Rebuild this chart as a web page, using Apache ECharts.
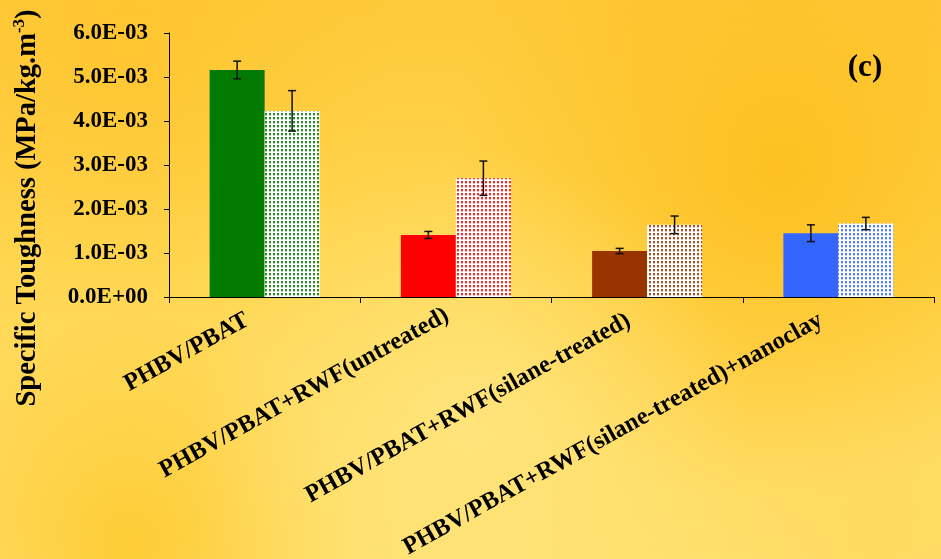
<!DOCTYPE html>
<html>
<head>
<meta charset="utf-8">
<script src="https://cdn.jsdelivr.net/npm/echarts@6/dist/echarts.min.js"></script>
<style>
  html, body { margin: 0; padding: 0; background: #FFDA5A; }
  #chart { width: 941px; height: 559px; }
</style>
</head>
<body>
<div id="chart"></div>
<script>
// Sample groups on the category axis
const categories = [
  'PHBV/PBAT',
  'PHBV/PBAT+RWF(untreated)',
  'PHBV/PBAT+RWF(silane-treated)',
  'PHBV/PBAT+RWF(silane-treated)+nanoclay'
];

// Specific toughness (MPa/kg.m^-3): solid bars and dotted bars
const solidValues  = [5.16e-3, 1.41e-3, 1.045e-3, 1.45e-3];
const solidErrors  = [0.20e-3, 0.08e-3, 0.06e-3, 0.19e-3];
const dottedValues = [4.23e-3, 2.70e-3, 1.64e-3, 1.67e-3];
const dottedErrors = [0.46e-3, 0.39e-3, 0.20e-3, 0.14e-3];

// Fill colour per group
const groupColors = ['#007A00', '#FF0000', '#993300', '#3366FF'];

// Y axis tick values
const yTicks = { min: 0, max: 0.006, interval: 0.001 };

const SERIF = '"Liberation Serif", "Times New Roman", serif';
const BAR_FRACTION = 0.2875; // bar width as share of category band

// Per-label nudges for the slanted category labels [top, right, bottom, left]
const labelPadding = [
  [10, 20, 0, 0],
  [0, 10, 12, 0],
  [0, 21, 12, 0],
  [0, 20, 26, 0]
];

// Small dotted tile: white ground with coloured dots in columns
function dotPattern(color) {
  const c = document.createElement('canvas');
  c.width = 4; c.height = 4;
  const ctx = c.getContext('2d');
  ctx.fillStyle = '#FFFFFF';
  ctx.fillRect(0, 0, 4, 4);
  ctx.fillStyle = color;
  ctx.globalAlpha = 0.85;
  ctx.fillRect(1, 1, 2, 2);
  ctx.globalAlpha = 0.3;
  ctx.fillRect(1, 3, 2, 1);
  return { image: c, repeat: 'repeat' };
}

function sciLabel(v) {
  if (Math.abs(v) < 1e-12) return '0.0E+00';
  const e = Math.floor(Math.log10(v) + 1e-9);
  const m = v / Math.pow(10, e);
  return m.toFixed(1) + 'E' + (e < 0 ? '-' : '+') + String(Math.abs(e)).padStart(2, '0');
}

function errorSeries(values, errors, side) {
  return {
    type: 'custom',
    z: 5,
    silent: true,
    data: values.map((v, i) => [i, v, errors[i]]),
    renderItem: function (params, api) {
      const band = api.size([1, 0])[0];
      const off = side * band * BAR_FRACTION / 2;
      const c = api.coord([api.value(0), api.value(1)]);
      const x = c[0] + off;
      const top = api.coord([api.value(0), api.value(1) + api.value(2)])[1];
      const bot = api.coord([api.value(0), api.value(1) - api.value(2)])[1];
      const cap = 4;
      const st = { stroke: '#111', lineWidth: 1.5 };
      return {
        type: 'group',
        children: [
          { type: 'line', shape: { x1: x, y1: top, x2: x, y2: bot }, style: st },
          { type: 'line', shape: { x1: x - cap, y1: top, x2: x + cap, y2: top }, style: st },
          { type: 'line', shape: { x1: x - cap, y1: bot, x2: x + cap, y2: bot }, style: st }
        ]
      };
    }
  };
}

function radial(cx, cy, r, color) {
  return {
    type: 'circle',
    z: -10,
    silent: true,
    shape: { cx: cx, cy: cy, r: r },
    style: {
      fill: new echarts.graphic.RadialGradient(0.5, 0.5, 0.5, [
        { offset: 0, color: color },
        { offset: 1, color: color.replace(/[\d.]+\)$/, '0)') }
      ])
    }
  };
}

const chart = echarts.init(document.getElementById('chart'));

chart.setOption({
  animation: false,
  backgroundColor: new echarts.graphic.LinearGradient(0, 0, 0, 1, [
    { offset: 0, color: '#FEC93A' },
    { offset: 0.45, color: '#FFD650' },
    { offset: 1, color: '#FFDF6C' }
  ]),
  graphic: [
    radial(780, 170, 330, 'rgba(253,190,28,0.9)'),
    radial(130, 40, 260, 'rgba(254,196,44,0.75)'),
    radial(130, 545, 230, 'rgba(253,198,36,0.75)'),
    radial(470, 430, 280, 'rgba(255,230,130,0.8)'),
    radial(880, 545, 160, 'rgba(255,215,90,0.6)'),
    {
      type: 'text',
      z: 10,
      x: 28,
      y: 208,
      rotation: Math.PI / 2,
      style: {
        text: '{a|Specific Toughness (MPa/kg.m}{s|-3}{a|)}',
        textAlign: 'center',
        textVerticalAlign: 'middle',
        rich: {
          a: { fontFamily: SERIF, fontWeight: 'bold', fontSize: 28.5, fill: '#000' },
          s: { fontFamily: SERIF, fontWeight: 'bold', fontSize: 17, fill: '#000', padding: [0, 0, 17, 0] }
        }
      }
    },
    {
      type: 'text',
      z: 10,
      x: 865,
      y: 68,
      style: {
        text: '(c)',
        fontFamily: SERIF,
        fontWeight: 'bold',
        fontSize: 31,
        fill: '#000',
        textAlign: 'center',
        textVerticalAlign: 'middle'
      }
    }
  ],
  grid: { left: 169, right: 7, top: 33, bottom: 262, outerBoundsMode: 'none', containLabel: false },
  xAxis: {
    type: 'category',
    data: categories.map((name, i) => ({
      value: name,
      textStyle: { padding: labelPadding[i] }
    })),
    axisLine: { lineStyle: { color: '#000', width: 1 } },
    axisTick: { show: true, length: 6, lineStyle: { color: '#000' } },
    axisLabel: {
      interval: 0,
      rotate: 29,
      margin: 12,
      color: '#000',
      fontFamily: SERIF,
      fontWeight: 'bold',
      fontSize: 24.5
    }
  },
  yAxis: {
    type: 'value',
    min: yTicks.min,
    max: yTicks.max,
    interval: yTicks.interval,
    splitLine: { show: false },
    axisLine: { show: true, lineStyle: { color: '#000', width: 1 } },
    axisTick: { show: true, length: 5, lineStyle: { color: '#000' } },
    axisLabel: {
      margin: 21,
      color: '#000',
      fontFamily: SERIF,
      fontWeight: 'bold',
      fontSize: 23,
      formatter: sciLabel
    }
  },
  series: [
    {
      type: 'bar',
      barWidth: (BAR_FRACTION * 100) + '%',
      barGap: '0%',
      data: solidValues.map((v, i) => ({ value: v, itemStyle: { color: groupColors[i] } }))
    },
    {
      type: 'bar',
      barWidth: (BAR_FRACTION * 100) + '%',
      barGap: '0%',
      data: dottedValues.map((v, i) => ({ value: v, itemStyle: { color: dotPattern(groupColors[i]) } }))
    },
    errorSeries(solidValues, solidErrors, -1),
    errorSeries(dottedValues, dottedErrors, 1)
  ]
});
</script>
</body>
</html>
